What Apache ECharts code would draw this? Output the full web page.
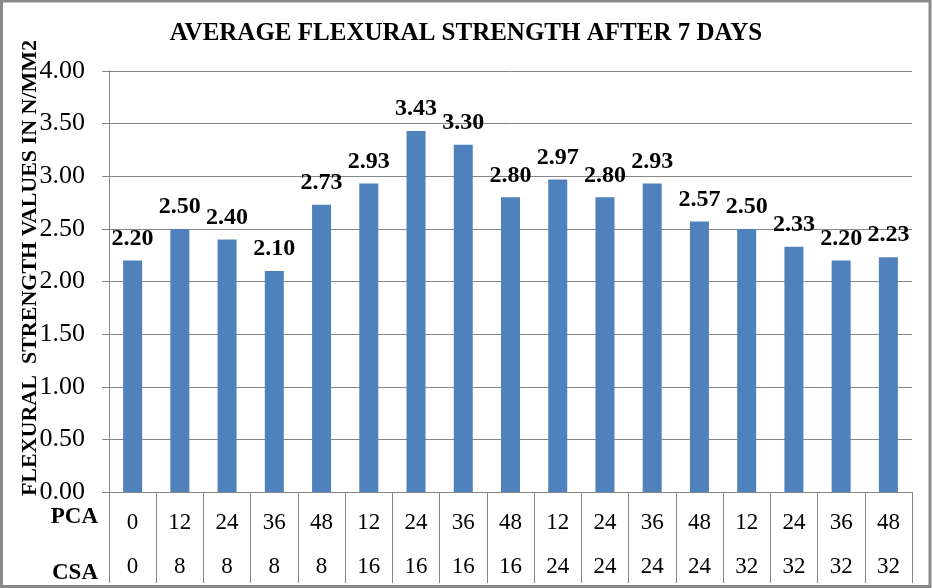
<!DOCTYPE html>
<html>
<head>
<meta charset="utf-8">
<script src="https://cdn.jsdelivr.net/npm/echarts@6/dist/echarts.min.js"></script>
<style>
html,body{margin:0;padding:0;background:#fff;}
#c{width:932px;height:588px;}
</style>
</head>
<body>
<div id="c"></div>
<script>
const titleText = 'AVERAGE FLEXURAL STRENGTH AFTER 7 DAYS';
const yTitle = 'FLEXURAL  STRENGTH VALUES IN N/MM2';
const pca = ['0','12','24','36','48','12','24','36','48','12','24','36','48','12','24','36','48'];
const csa = ['0','8','8','8','8','16','16','16','16','24','24','24','24','32','32','32','32'];
const strength = [2.20,2.50,2.40,2.10,2.73,2.93,3.43,3.30,2.80,2.97,2.80,2.93,2.57,2.50,2.33,2.20,2.23];
const categories = pca.map((p,i)=>p+'/'+csa[i]);
const font = 'Liberation Serif';

const chart = echarts.init(document.getElementById('c'));
chart.setOption({
  animation:false,
  backgroundColor:'#fff',
  title:{text:titleText,left:'center',top:16,textStyle:{fontFamily:font,fontWeight:'bold',fontSize:25,color:'#000'}},
  grid:{left:109,right:20,top:71,bottom:96,containLabel:false},
  xAxis:{
    type:'category',data:categories,
    axisLine:{show:true,lineStyle:{color:'#868686',width:1}},
    axisTick:{show:true,length:91,interval:0,lineStyle:{color:'#868686',width:1}},
    axisLabel:{interval:0,margin:9,
      formatter:(v,i)=>'{a|'+pca[i]+'}\n{b|'+csa[i]+'}',
      rich:{a:{fontFamily:font,fontSize:23,color:'#000',lineHeight:44},b:{fontFamily:font,fontSize:23,color:'#000',lineHeight:44}}}
  },
  yAxis:{
    type:'value',min:0,max:4,interval:0.5,
    axisLine:{show:true,lineStyle:{color:'#868686',width:1}},
    axisTick:{show:true,length:7,lineStyle:{color:'#868686'}},
    splitLine:{show:true,lineStyle:{color:'#868686',width:1}},
    axisLabel:{fontFamily:font,fontSize:26,color:'#000',margin:24,formatter:v=>v.toFixed(2)}
  },
  series:[{
    type:'bar',data:strength,barWidth:19,
    itemStyle:{color:'#4F81BD'},
    label:{show:true,position:'top',distance:10,fontFamily:font,fontWeight:'bold',fontSize:24,color:'#000',formatter:p=>p.value.toFixed(2)}
  }],
  graphic:[
    {type:'rect',shape:{x:1.5,y:1,width:928.5,height:585.5},style:{fill:null,stroke:'#8a8a8a',lineWidth:3},silent:true},
    {type:'text',x:30,y:268,rotation:Math.PI/2,style:{text:yTitle,fontFamily:font,fontWeight:'bold',fontSize:22,fill:'#000',align:'center',verticalAlign:'middle'}},
    {type:'text',x:98,y:517,style:{text:'PCA',fontFamily:font,fontWeight:'bold',fontSize:23,fill:'#000',align:'right',verticalAlign:'middle'}},
    {type:'text',x:98,y:573,style:{text:'CSA',fontFamily:font,fontWeight:'bold',fontSize:23,fill:'#000',align:'right',verticalAlign:'middle'}}
  ]
});
</script>
</body>
</html>
